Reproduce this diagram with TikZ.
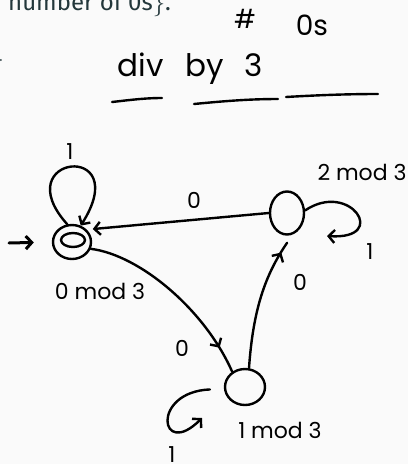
\documentclass[tikz,border=0pt]{standalone}
\usepackage{fontspec}
\setmainfont{Fira Sans}
\newfontfamily\hand{Poppins}
\usetikzlibrary{arrows.meta,shapes.geometric,decorations.markings}
\definecolor{slidebg}{HTML}{FAFAFA}
\definecolor{slidefg}{HTML}{23373B}
\begin{document}
\begin{tikzpicture}[x=1pt,y=-1pt,
  pen/.style={line width=2.4pt, line cap=round, line join=round},
  state/.style={ellipse, draw, pen, inner sep=0pt},
  tip/.style={-{Straight Barb[length=6pt,width=13pt]}},
  midtip/.style={postaction=decorate, decoration={markings,
      mark=at position #1 with {\arrow{Straight Barb[length=6pt,width=13pt]}}}},
  lbl/.style={font=\hand\fontsize{22}{24}\selectfont, inner sep=0pt},
  biglbl/.style={font=\hand\fontsize{31}{33}\selectfont, inner sep=0pt}
]
% slide background
\fill[slidebg] (0,0) rectangle (408,464);
\useasboundingbox (0,0) rectangle (408,464);

% slide text running off the top edge
\node[anchor=base west, text=slidefg, font=\fontsize{24}{26}\selectfont, inner sep=0pt]
  (caption) at (8,10) {number of 0s$\}$.};
\fill[slidefg] (0.8,60) circle (1pt);

% heading of the notes
\node[lbl, font=\hand\fontsize{26}{28}\selectfont] (hash) at (245,19) {\#};
\node[lbl, font=\hand\fontsize{28}{30}\selectfont] (zeros) at (312,25) {0s};
\node[biglbl] (title) at (190,69) {div\hspace{22pt}by\hspace{20pt}3};
\draw[pen] (112,102) .. controls (130,100) and (145,98) .. (162,98);
\draw[pen] (194,104) .. controls (225,101) and (250,99) .. (278,99);
\draw[pen] (286,97) .. controls (320,95) and (350,94) .. (378,94);

% states
\node[state, minimum width=38pt, minimum height=34pt] (q0) at (72,242) {};
\draw[pen] ([xshift=1pt,yshift=2pt]q0.center) ellipse [x radius=12, y radius=7];
\node[state, minimum width=34pt, minimum height=43pt] (q2) at (287,213) {};
\node[state, minimum width=40pt, minimum height=36pt] (q1) at (245,387) {};

\node[lbl] (q0name) at (100,291) {0 mod 3};
\node[lbl] (q2name) at (362,172) {2 mod 3};
\node[lbl] (q1name) at (280,430) {1 mod 3};

% start arrow
\coordinate (init) at (9,243);
\draw[pen, line width=3pt, tip, shorten >=18pt] (init) -- (q0.west);

% self loops
\draw[pen, tip] (q0.105) .. controls (5,155) and (135,140) .. (q0.62);
\node[lbl] (l00) at (70,152) {1};

\coordinate (q2loopend) at (327,236);
\draw[pen, tip] (q2.8) .. controls (350,180) and (390,240) .. (q2loopend);
\node[lbl] (l22) at (370,252) {1};

\coordinate (q1loopend) at (202,418);
\draw[pen, tip, shorten <=14pt] (q1.185) .. controls (150,392) and (160,460) .. (q1loopend);
\node[lbl] (l11) at (172,455) {1};

% transitions between states
\draw[pen, tip, shorten >=6pt] (q2.west) -- (q0.40);
\node[lbl] (l20) at (194,200) {0};

\draw[pen, midtip=0.86] (q0.-20) .. controls (140,255) and (205,310) .. (q1.130);
\node[lbl] (l01) at (182,348) {0};

\draw[pen, midtip=0.85, shorten >=10pt] (q1.78) .. controls (253,310) and (265,275) .. (q2.-75);
\node[lbl] (l12) at (300,282) {0};
\end{tikzpicture}
\end{document}
